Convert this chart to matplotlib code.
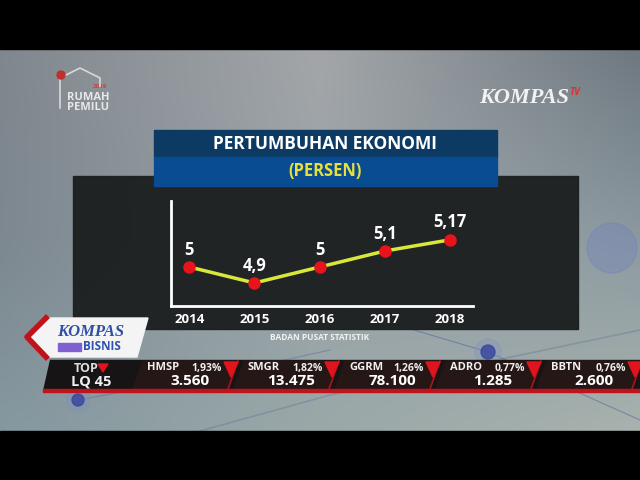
import numpy as np
import matplotlib.pyplot as plt
from matplotlib.patches import Rectangle, Polygon, Circle

# chart data
years = [2014, 2015, 2016, 2017, 2018]
growth = [5.0, 4.9, 5.0, 5.1, 5.17]
growth_labels = ['5', '4,9', '5', '5,1', '5,17']

title = 'PERTUMBUHAN EKONOMI'
subtitle = '(PERSEN)'
source = 'BADAN PUSAT STATISTIK'

# ticker strip
tickers = ['HMSP', 'SMGR', 'GGRM', 'ADRO', 'BBTN']
changes = ['1,93%', '1,82%', '1,26%', '0,77%', '0,76%']
prices = ['3.560', '13.475', '78.100', '1.285', '2.600']

plt.rcParams['font.family'] = ['Open Sans', 'DejaVu Sans']

fig = plt.figure(figsize=(6.4, 4.8), dpi=100)

# background axes in pixel coords
bg = fig.add_axes([0, 0, 1, 1])
bg.set_xlim(0, 640)
bg.set_ylim(480, 0)
bg.axis('off')

def hex2rgb(h):
    return np.array([int(h[i:i + 2], 16) / 255 for i in (1, 3, 5)])

ctrl = [['#80878e', '#a3a6a9', '#6e7880'],
        ['#7d8890', '#9aa3a8', '#8c9aa0'],
        ['#8598a0', '#9aa8a8', '#a8b2ae']]
ctrl = np.array([[hex2rgb(c) for c in row] for row in ctrl])
ny, nx = 96, 128
gy = np.linspace(0, 2, ny)
gx = np.linspace(0, 2, nx)
img = np.zeros((ny, nx, 3))
for i, yy in enumerate(gy):
    r0 = min(int(yy), 1)
    ty = yy - r0
    for j, xx in enumerate(gx):
        c0 = min(int(xx), 1)
        tx = xx - c0
        top = ctrl[r0, c0] * (1 - tx) + ctrl[r0, c0 + 1] * tx
        bot = ctrl[r0 + 1, c0] * (1 - tx) + ctrl[r0 + 1, c0 + 1] * tx
        img[i, j] = top * (1 - ty) + bot * ty
bg.imshow(img, extent=(0, 640, 431, 49), aspect='auto', interpolation='bilinear', zorder=0)

# faint decorative lines / dots
bg.plot([330, 488, 640], [305, 352, 420], color='#3a4a9a', lw=0.8, alpha=0.4, zorder=1)
bg.plot([78, 230, 330], [400, 372, 350], color='#3a4a9a', lw=0.8, alpha=0.3, zorder=1)
bg.plot([200, 330, 640], [431, 395, 330], color='#4a5a8a', lw=1.2, alpha=0.25, zorder=1)
bg.add_patch(Circle((488, 352), 13, color='#8090c0', alpha=0.3, zorder=1))
bg.add_patch(Circle((488, 352), 7, color='#3a48a0', alpha=0.85, zorder=1))
bg.add_patch(Circle((78, 400), 12, color='#8090c0', alpha=0.3, zorder=1))
bg.add_patch(Circle((78, 400), 6, color='#3a48a0', alpha=0.85, zorder=1))
bg.add_patch(Circle((612, 248), 25, color='#7080c0', alpha=0.35, zorder=1))

# letterbox bars
bg.add_patch(Rectangle((0, 0), 640, 49, color='black', zorder=2))
bg.add_patch(Rectangle((0, 431), 640, 49, color='black', zorder=2))

# top logos
bg.text(67, 97, 'RUMAH', color='#e8e8e8', fontsize=8, fontweight='bold', va='center', zorder=3)
bg.text(67, 108, 'PEMILU', color='#e8e8e8', fontsize=8, fontweight='bold', va='center', zorder=3)
bg.text(93, 86, '2019', color='#d04040', fontsize=4.5, fontweight='bold', va='center', zorder=3)
bg.plot([60, 60, 80, 100, 100], [108, 78, 68, 78, 86], color='#d8d8d8', lw=1.2, zorder=3)
bg.add_patch(Circle((61, 75), 4, color='#c03030', zorder=3))
bg.text(479, 103, 'KOMPAS', color='#f2f2f2', fontsize=16, fontstyle='italic',
        fontweight='bold', family='Liberation Serif', zorder=3)
bg.text(569, 95, 'TV', color='#e03030', fontsize=7, fontstyle='italic',
        fontweight='bold', zorder=3)

# chart panel and title boxes
bg.add_patch(Rectangle((73, 176), 505, 153, color='#1d2020', alpha=0.97, zorder=3))
bg.add_patch(Rectangle((154, 130), 343, 27, color='#0c3a63', zorder=4))
bg.add_patch(Rectangle((154, 157), 343, 29, color='#0a4c92', zorder=4))
bg.text(325, 144, title, color='white', fontsize=12.5, fontweight='bold',
        ha='center', va='center', zorder=5)
bg.text(325, 171, subtitle, color='#e6e03c', fontsize=12, fontweight='bold',
        ha='center', va='center', zorder=5)
bg.text(320, 338, source, color='#f2f2f2', fontsize=6, fontweight='bold',
        ha='center', va='center', zorder=5)

# ticker bar
bg.add_patch(Polygon([(50, 360), (640, 360), (640, 391), (43, 391)],
                     closed=True, color='#161414', zorder=4))
bg.add_patch(Rectangle((43, 389), 597, 3, color='#c0141c', zorder=5))
seg0, step = 140, 101
for i in range(len(tickers)):
    x0 = seg0 + step * i
    bg.add_patch(Polygon([(x0 + 3, 361), (x0 + 98, 361), (x0 + 88, 389), (x0 - 7, 389)],
                         closed=True, color='#261717', zorder=4))
    bg.plot([x0 + 98, x0 + 88], [361, 389], color='#b01018', lw=1.2, zorder=5)
    tx = x0 + 91
    bg.add_patch(Polygon([(tx - 7, 362), (tx + 7, 362), (tx, 377)], closed=True,
                         color='#e0141c', zorder=6))
    bg.text(x0 + 7, 368, tickers[i], color='#f0f0f0', fontsize=8, fontweight='bold',
            va='center', zorder=6)
    bg.text(x0 + 82, 368, changes[i], color='#f0f0f0', fontsize=7.5, fontweight='bold',
            va='center', ha='right', zorder=6)
    bg.text(x0 + 50, 381, prices[i], color='white', fontsize=11, fontweight='bold',
            va='center', ha='center', zorder=6)
bg.text(74, 368, 'TOP', color='#dddddd', fontsize=9, fontweight='bold', va='center', zorder=6)
bg.add_patch(Polygon([(98, 364), (108, 364), (103, 372)], closed=True, color='#e0141c', zorder=6))
bg.text(71, 381, 'LQ 45', color='#f0f0f0', fontsize=10.5, fontweight='bold', va='center', zorder=6)

# Kompas Bisnis logo
bg.add_patch(Polygon([(46, 318), (148, 318), (137, 357), (46, 357), (28, 337)],
                     closed=True, color='#f4f4f4', zorder=6))
bg.plot([46, 27, 46], [318, 337, 357], color='#c0141c', lw=4, zorder=7)
bg.text(91, 332, 'KOMPAS', color='#2d4fa8', fontsize=12, fontweight='bold',
        fontstyle='italic', family='Liberation Serif', ha='center', va='center', zorder=7)
bg.text(102, 347, 'BISNIS', color='#3050b0', fontsize=8.5, fontweight='bold',
        ha='center', va='center', zorder=7)
bg.add_patch(Rectangle((58, 343), 23, 8, color='#8060d0', zorder=7))

# line chart
ax = fig.add_axes([171 / 640, 1 - 306 / 480, 302 / 640, 105 / 480])
ax.patch.set_alpha(0)
ax.plot(years, growth, color='#d8e83a', lw=2.5, zorder=3)
ax.plot(years, growth, 'o', color='#e8141c', markersize=8, zorder=4)
for x, y, s in zip(years, growth, growth_labels):
    ax.annotate(s, (x, y), xytext=(0, 6), textcoords='offset points', ha='center',
                va='bottom', color='white', fontsize=12, fontweight='bold')
ax.set_xlim(2013.72, 2018.35)
ax.set_ylim(4.756, 5.4125)
for side in ['top', 'right']:
    ax.spines[side].set_visible(False)
for side in ['left', 'bottom']:
    ax.spines[side].set_color('white')
    ax.spines[side].set_linewidth(2)
ax.set_yticks([])
ax.set_xticks(years)
ax.set_xticklabels([str(y) for y in years])
ax.tick_params(axis='x', length=0, pad=5, colors='white', labelsize=9.5)
for lbl in ax.get_xticklabels():
    lbl.set_fontweight('bold')

fig.savefig('out.png', dpi=100)
